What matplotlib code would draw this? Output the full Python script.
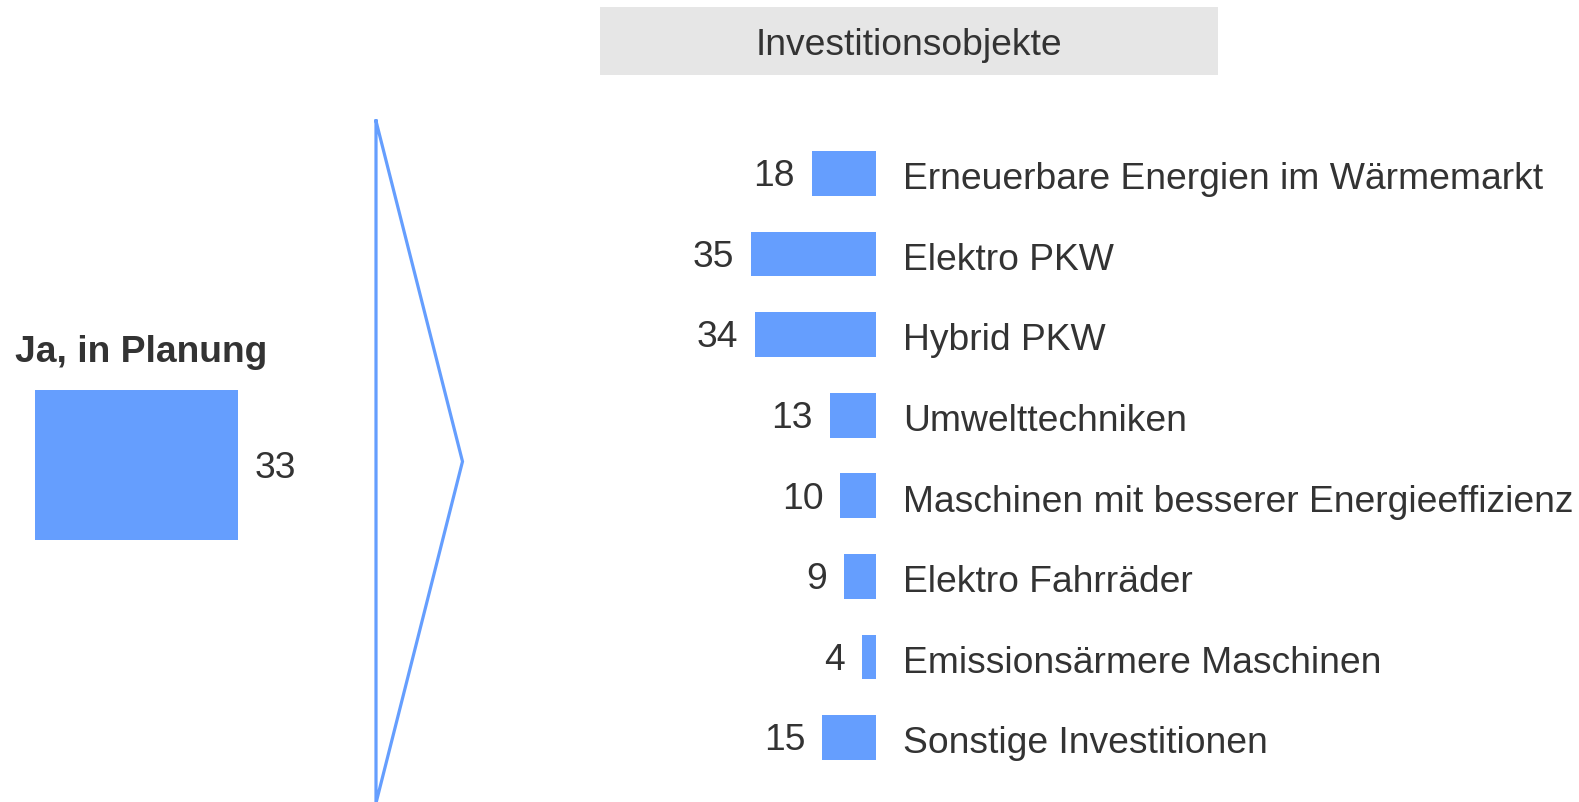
import matplotlib
matplotlib.use("Agg")
import matplotlib.pyplot as plt
from matplotlib.patches import Rectangle
from matplotlib.lines import Line2D

# ---------------- data ----------------
header = "Investitionsobjekte"
summary_label = "Ja, in Planung"
summary_value = 33
categories = [
    "Erneuerbare Energien im Wärmemarkt",
    "Elektro PKW",
    "Hybrid PKW",
    "Umwelttechniken",
    "Maschinen mit besserer Energieeffizienz",
    "Elektro Fahrräder",
    "Emissionsärmere Maschinen",
    "Sonstige Investitionen",
]
values = [18, 35, 34, 13, 10, 9, 4, 15]

# ---------------- style ----------------
W, H, DPI = 1579, 802, 100
BLUE = "#659efe"
TEXT = "#333333"
FS = 26.85
PT = 72.0 / DPI  # points per pixel
plt.rcParams['font.family'] = ['Liberation Sans', 'DejaVu Sans']

fig = plt.figure(figsize=(W / DPI, H / DPI), dpi=DPI)
fig.patch.set_facecolor("white")


def fx(px):
    return px / W


def fy(py):
    return 1 - py / H


# header box
fig.patches.append(Rectangle((fx(600), fy(75)), (1218 - 600) / W, (75 - 7) / H,
                             transform=fig.transFigure, facecolor="#e6e6e6",
                             edgecolor="none", zorder=0))
fig.text(fx(909), fy(55), header, ha="center", va="baseline",
         fontsize=FS, color=TEXT)

# left summary bar
axL = fig.add_axes([fx(35), fy(540), (376 - 35) / W, 150 / H])
axL.barh([0], [summary_value], height=1.0, color=BLUE)
axL.set_xlim(0, (376 - 35) / 6.15)
axL.set_ylim(-0.5, 0.5)
axL.axis("off")
axL.annotate(str(summary_value), xy=(summary_value, 0),
             xytext=(17 * PT, -13 * PT), textcoords="offset points",
             ha="left", va="baseline", fontsize=FS, color=TEXT,
             annotation_clip=False)
fig.text(fx(15), fy(362), summary_label, ha="left", va="baseline",
         fontsize=FS, fontweight="bold", color=TEXT)

# chevron
fig.add_artist(Line2D([fx(376), fx(462.5), fx(376), fx(376)],
                      [fy(121), fy(461.5), fy(803), fy(121)],
                      transform=fig.transFigure, color=BLUE, lw=2.3,
                      solid_joinstyle="miter"))

# right bars
S = 3.57        # px per unit
ROW = 80.6      # px per row
C0 = 173.4      # px center of first row
axR = fig.add_axes([fx(600), 0, (W - 600) / W, (802 - 100) / H])
ypos = list(range(len(values)))
axR.barh(ypos, [-v for v in values], height=44.7 / ROW, color=BLUE)
axR.set_xlim(-(876 - 600) / S, (W - 876) / S)
axR.set_ylim((802 - C0) / ROW, (100 - C0) / ROW)
axR.axis("off")
for i, (c, v) in enumerate(zip(categories, values)):
    axR.annotate(str(v), xy=(-v, i), xytext=(-17 * PT, -12.8 * PT),
                 textcoords="offset points", ha="right", va="baseline",
                 fontsize=FS, color=TEXT, annotation_clip=False)
    axR.annotate(c, xy=(0, i), xytext=(27 * PT, -15.8 * PT),
                 textcoords="offset points", ha="left", va="baseline",
                 fontsize=FS, color=TEXT, annotation_clip=False)

fig.savefig("out.png", dpi=DPI)
